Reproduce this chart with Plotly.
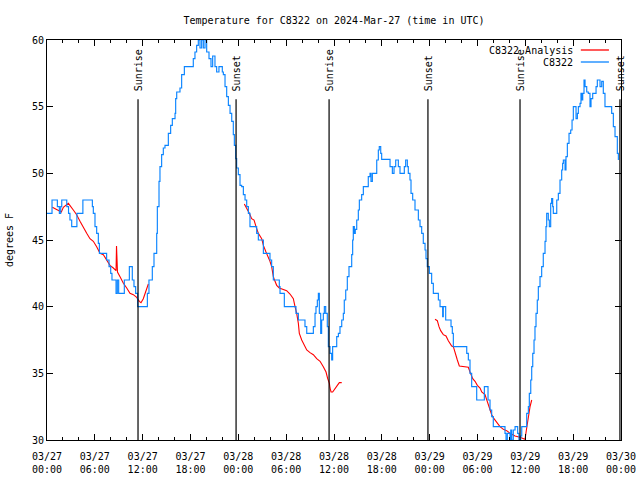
import pandas as pd
import plotly.graph_objects as go

# ---------------- data ----------------
base = pd.Timestamp("2024-03-27 00:00")

# Observed C8322 temperature (hours after 03/27 00:00 UTC, degrees F), stepped
obs_hours = [
    0.0, 0.63, 1.3, 1.55, 1.72, 1.85, 2.48, 2.7, 2.88, 3.1, 3.75, 4.5, 5.69, 5.81, 6.02, 6.23, 6.44, 6.57,
    7.48, 7.78, 7.99, 8.15, 8.66, 8.82, 8.99, 9.7, 10.33, 10.7, 10.91, 11.12, 11.37,
    12.5, 12.59, 12.79, 13.21, 13.42, 13.76, 13.84, 14.05, 14.17, 14.38, 14.59, 14.8, 15.22, 15.51, 15.72,
    16.06, 16.14, 16.27, 16.68, 16.89, 17.23, 18.35, 18.56, 18.77, 18.98, 19.19, 19.4, 19.61, 19.82,
    20.03, 20.32, 20.57, 20.78, 21.07, 21.28, 21.57, 21.99, 22.12, 22.33, 22.54, 22.75, 22.96, 23.17,
    23.37, 23.5, 23.67, 23.79, 24.0, 24.21, 24.42, 24.63, 24.84, 25.05, 25.26, 25.46, 26.3, 26.51,
    27.14, 27.97, 28.18, 28.39, 29.14, 29.23, 29.77, 31.23, 31.53, 32.36, 32.58, 33.41, 33.62, 33.74,
    33.91, 34.04, 34.16, 34.33, 34.45, 34.66, 34.79, 34.96, 35.16, 35.29, 35.5, 35.71, 35.83,
    36.34, 36.55, 36.75, 36.97, 37.17, 37.29, 37.47, 37.67, 37.88, 38.22, 38.34, 38.42, 38.55, 38.67,
    38.85, 39.05, 39.18, 39.47, 39.68, 40.3, 40.52, 40.64, 40.81, 41.36, 41.56, 41.68, 41.86, 41.98,
    43.03, 43.32, 43.53, 43.74, 44.07, 44.28, 44.82, 44.99, 45.2, 45.32, 45.53, 45.66, 45.87, 46.16,
    46.58, 46.79, 47.0, 47.2, 47.42, 47.54, 47.7, 47.96, 48.25, 48.46, 49.09, 49.3, 49.63, 49.71,
    50.01, 50.68, 50.84, 50.97, 52.65, 52.85, 53.06, 53.27, 53.9, 54.86, 55.32, 55.57, 55.78, 55.98,
    56.82, 57.45, 57.58, 57.74, 58.08, 58.17, 58.29, 58.49, 58.71, 59.04, 59.2, 59.42, 59.55,
    60.17, 60.38, 60.5, 60.68, 60.8, 60.93, 61.09, 61.21, 61.34, 61.5, 61.63, 61.84, 62.05, 62.25,
    62.47, 62.59, 62.68, 62.88, 63.01, 63.18, 63.3, 63.43, 63.51, 63.94, 64.14, 64.35, 64.56, 64.68,
    64.77, 64.98, 65.1, 65.27, 65.48, 65.69, 65.86, 66.02, 66.36, 66.53, 66.65, 66.86, 66.98, 67.07,
    67.2, 67.36, 67.49, 67.7, 67.9, 68.11, 68.24, 68.45, 68.87, 69.03, 69.37, 69.58, 69.78, 69.99,
    70.83, 71.04, 71.25, 71.54, 71.67,
]
obs_temps = [
    47, 48, 47.5, 47, 47.5, 48, 47.5, 47, 46.5, 46, 47, 48, 47.5, 47, 46, 45.5, 44.75, 44,
    43.5, 43, 42.5, 42, 41, 42, 41, 42, 43, 42, 41.5, 41, 40,
    40, 41, 42, 43, 44, 45.5, 47.5, 49.4, 50.5, 51.4, 51.9, 52.1, 53, 53.6, 54.1,
    54.5, 55.6, 56.1, 56.4, 57.4, 58, 58.6, 59.1, 59.6, 60, 59.4, 60, 59.4, 60,
    59.1, 58.6, 58, 58.8, 58, 57.6, 58, 57.6, 57.4, 56.5, 55.75, 55.1, 54.5, 53.9,
    52.9, 52.1, 51.1, 50.4, 49.9, 49.1, 49, 48.4, 48, 47.5, 47, 46, 45.5, 45,
    44, 43.5, 43, 42, 41.5, 41, 40, 39.5, 39, 38.5, 38, 38.5, 39.5, 40,
    40.5, 41, 39.5, 38, 39, 39.5, 40, 39.5, 38.5, 37, 36.5, 36, 37,
    37.75, 38, 38.5, 39, 39.5, 40.5, 41.25, 42.25, 43, 43.9, 45, 46, 45.5, 45.8,
    46.5, 47.25, 48, 48.4, 49, 49.75, 50, 49.4, 50, 51, 51.75, 52, 51.5, 51.05,
    50.5, 50, 50.5, 51, 50.5, 50, 50.5, 51, 50.5, 50, 49.5, 48.5, 48, 47.25,
    46.5, 46, 45.5, 44.75, 44.25, 43.6, 43, 42.5, 41.75, 41, 40.5, 40, 39.25, 40,
    39, 38.5, 38, 37, 36.5, 36, 35, 34, 33, 34, 33, 32.25, 31.75, 31,
    31, 30.5, 30, 30.5, 30, 30.75, 30, 30.75, 31, 30.5, 30, 30.3, 31,
    32, 32.5, 33.5, 34.5, 35.5, 36.5, 37.5, 38.5, 39.5, 40.5, 41.5, 42.25, 43, 44,
    44.9, 46, 47, 46.5, 46, 47.75, 48.1, 47.5, 47, 48, 48.5, 49.5, 50.25, 50.75,
    51, 50.25, 51.25, 52.25, 53, 53.25, 54, 55, 54.1, 54.5, 55, 55.25, 56, 55.5,
    56, 57, 56.5, 56.1, 56, 55, 55.6, 56, 56.5, 57, 56.5, 56.9, 56, 55,
    54.5, 53.5, 52.75, 51.5, 51,
]

# Analysis series, three separate runs
ana1_hours = [0.67, 1.42, 1.8, 2.05, 2.68, 3.3, 3.72, 4.14, 4.56, 4.98, 5.39, 5.81, 6.23, 6.65, 7.07,
              7.48, 7.9, 8.32, 8.66, 8.72, 8.78, 8.84, 9.16, 9.58, 10.0, 10.41, 10.83, 11.25, 11.58,
              11.79, 12.08, 12.42, 12.71]
ana1_temps = [47.45, 47.2, 47.1, 47.45, 47.75, 47.25, 46.9, 46.4, 45.9, 45.5, 45.1, 44.9, 44.5, 44.0, 43.9,
              43.5, 43.1, 42.9, 42.7, 44.55, 42.8, 42.6, 42.25, 41.75, 41.4, 41.0, 40.9, 40.7, 40.4,
              40.3, 40.6, 41.25, 41.7]
ana2_hours = [24.75, 25.05, 25.38, 25.67, 25.97, 26.22, 26.51, 26.93, 27.14, 27.47, 27.76, 27.97, 28.18,
              28.39, 28.6, 28.81, 29.14, 29.64, 30.06, 30.48, 30.9, 31.11, 31.32, 31.53, 31.65, 31.95,
              32.24, 32.58, 32.99, 33.41, 33.83, 34.25, 34.66, 35.0, 35.21, 35.42, 35.5, 35.63, 35.83,
              36.13, 36.42, 36.67, 36.97]
ana2_temps = [47.7, 47.4, 47.0, 46.6, 46.5, 46.0, 45.5, 45.1, 44.6, 44.1, 43.75, 43.4, 43.0,
              42.25, 41.9, 41.6, 41.4, 41.3, 41.2, 40.95, 40.6, 40.0, 39.5, 38.75, 38.0, 37.5,
              37.1, 36.75, 36.55, 36.4, 36.1, 35.9, 35.5, 35.1, 34.6, 34.25, 33.9, 33.6, 33.6,
              33.9, 34.1, 34.3, 34.3]
ana3_hours = [48.67, 48.96, 49.17, 49.38, 49.71, 50.05, 50.34, 50.76, 50.97, 51.18, 51.47, 51.72, 52.22,
              52.85, 53.06, 53.4, 53.69, 53.98, 54.32, 54.53, 54.94, 55.16, 55.36, 55.57, 55.78, 56.07,
              56.41, 56.82, 57.24, 57.66, 58.08, 58.71, 59.33, 59.75, 59.96, 60.17, 60.38, 60.59, 60.8]
ana3_temps = [39.05, 38.95, 38.5, 38.2, 37.9, 37.8, 37.45, 37.05, 37.0, 36.5, 36.0, 35.55, 35.5,
              35.45, 35.1, 34.6, 34.4, 34.1, 33.9, 33.6, 33.4, 33.0, 32.6, 32.25, 31.9, 31.6,
              31.3, 31.0, 30.8, 30.7, 30.5, 30.3, 30.2, 30.1, 30.05, 30.9, 31.9, 32.5, 33.0]

# Sun events
event_times = ["2024-03-27 11:25", "2024-03-27 23:43", "2024-03-28 11:23",
               "2024-03-28 23:47", "2024-03-29 11:20", "2024-03-29 23:52"]
event_labels = ["Sunrise", "Sunset", "Sunrise", "Sunset", "Sunrise", "Sunset"]
event_line_top = 55.55

title_text = "Temperature for C8322 on 2024-Mar-27 (time in UTC)"
y_ticks = [30, 35, 40, 45, 50, 55, 60]

# ---------------- figure ----------------
FONT = "DejaVu Sans Mono"
BLUE = "#0a84ff"
RED = "#ff0000"


def to_time(hours):
    return [base + pd.Timedelta(hours=h) for h in hours]


ana_x = to_time(ana1_hours) + [None] + to_time(ana2_hours) + [None] + to_time(ana3_hours)
ana_y = ana1_temps + [None] + ana2_temps + [None] + ana3_temps

fig = go.Figure()

# event vertical lines
for t in event_times:
    ts = pd.Timestamp(t)
    fig.add_shape(type="line", xref="x", yref="y", x0=ts, x1=ts, y0=30, y1=event_line_top,
                  line=dict(color="black", width=1.2), layer="above")

fig.add_trace(go.Scatter(x=ana_x, y=ana_y, mode="lines", name="C8322 Analysis",
                         line=dict(color=RED, width=1.1), connectgaps=False, showlegend=False))
fig.add_trace(go.Scatter(x=to_time(obs_hours), y=obs_temps, mode="lines", name="C8322",
                         line=dict(color=BLUE, width=1.15, shape="hv"), showlegend=False))

for t, lab in zip(event_times, event_labels):
    fig.add_annotation(x=pd.Timestamp(t), y=event_line_top, xref="x", yref="y", text=lab,
                       textangle=-90, showarrow=False, xanchor="center", yanchor="bottom",
                       yshift=6, font=dict(family=FONT, size=10, color="black"))

# legend drawn in gnuplot style: text then line sample
legend_items = [("C8322 Analysis", RED, 0.975), ("C8322", BLUE, 0.945)]
for lab, col, yy in legend_items:
    fig.add_annotation(x=0.92, y=yy, xref="paper", yref="paper", text=lab, showarrow=False,
                       xanchor="right", yanchor="middle", font=dict(family=FONT, size=10, color="black"))
    fig.add_shape(type="line", xref="paper", yref="paper", x0=0.930, x1=0.979, y0=yy, y1=yy,
                  line=dict(color=col, width=1.3))

fig.update_layout(
    width=640, height=480,
    margin=dict(l=47, r=19, t=40, b=40, autoexpand=False),
    paper_bgcolor="white", plot_bgcolor="white",
    font=dict(family=FONT, size=10, color="black"),
    title=dict(text=title_text, x=0.5, xref="paper", y=1 - 20 / 480, yref="container",
               yanchor="middle", font=dict(family=FONT, size=10, color="black")),
    showlegend=False,
)
fig.update_xaxes(
    type="date", automargin=False,
    range=[base, base + pd.Timedelta(hours=72)],
    dtick=6 * 3600 * 1000, tick0=base, tickformat="%m/%d<br>%H:%M",
    ticks="inside", ticklen=6, tickcolor="black", ticklabelstandoff=7,
    minor=dict(dtick=2 * 3600 * 1000, ticks="inside", ticklen=3, tickcolor="black"),
    showline=True, linecolor="black", linewidth=1, mirror="ticks",
    showgrid=False, zeroline=False,
    tickfont=dict(family=FONT, size=10),
)
fig.update_yaxes(
    automargin=False,
    range=[30, 60], tickvals=y_ticks,
    ticks="inside", ticklen=6, tickcolor="black",
    showline=True, linecolor="black", linewidth=1, mirror="ticks",
    showgrid=False, zeroline=False,
    title=dict(text="degrees F", standoff=16, font=dict(family=FONT, size=10)),
    tickfont=dict(family=FONT, size=10),
)

fig.write_html("out.html")
